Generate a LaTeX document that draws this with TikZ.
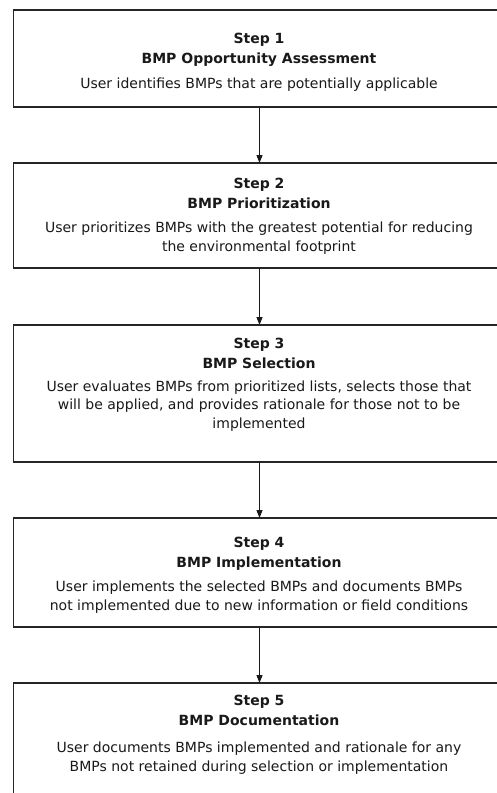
\documentclass[tikz,border=0pt]{standalone}
\usepackage{fontspec}
\setmainfont{DejaVu Sans}
\usetikzlibrary{arrows.meta}
\tikzset{
  stepbox/.style={draw=black!85, line width=1.4pt, fill=white, minimum width=492pt,
    inner sep=0pt, outer sep=0pt, rectangle},
  steptext/.style={anchor=north, inner sep=0pt, align=center, text=black!90,
    font=\fontsize{14}{18.5}\selectfont},
  flow/.style={draw=black!90, line width=1pt, -{Triangle[length=8pt,width=6pt]}}
}
\begin{document}
\begin{tikzpicture}[x=1pt,y=-1pt]
  \useasboundingbox (0,0) rectangle (497,793);
  \clip (0,0) rectangle (497,793);
  \fill[white] (0,0) rectangle (497,793);

  % boxes
  \node[stepbox, minimum height=97pt]  (b1) at (259.5,58.5)  {};
  \node[stepbox, minimum height=105pt] (b2) at (259.5,215.5) {};
  \node[stepbox, minimum height=137pt] (b3) at (259.5,393.5) {};
  \node[stepbox, minimum height=109pt] (b4) at (259.5,572.5) {};
  \node[stepbox, minimum height=150pt] (b5) at (259.5,758)   {};

  % box texts
  \node[steptext] (t1) at (259,32.5) {\textbf{Step 1}\\[1.5pt]
    \textbf{BMP Opportunity Assessment}\\[7pt]
    User identifies BMPs that are potentially applicable};
  \node[steptext] (t2) at (259,177.8) {\textbf{Step 2}\\[1.5pt]
    \textbf{BMP Prioritization}\\[6pt]
    User prioritizes BMPs with the greatest potential for reducing\\
    the environmental footprint};
  \node[steptext] (t3) at (259,337.8) {\textbf{Step 3}\\[1.5pt]
    \textbf{BMP Selection}\\[4.5pt]
    User evaluates BMPs from prioritized lists, selects those that\\
    will be applied, and provides rationale for those not to be\\
    implemented};
  \node[steptext] (t4) at (259,537.3) {\textbf{Step 4}\\[1.5pt]
    \textbf{BMP Implementation}\\[5.5pt]
    User implements the selected BMPs and documents BMPs\\
    not implemented due to new information or field conditions};
  \node[steptext] (t5) at (259,694.8) {\textbf{Step 5}\\[1.5pt]
    \textbf{BMP Documentation}\\[9pt]
    User documents BMPs implemented and rationale for any\\
    BMPs not retained during selection or implementation};

  % connectors
  \draw[flow] (b1.south) -- (b2.north);
  \draw[flow] (b2.south) -- (b3.north);
  \draw[flow] (b3.south) -- (b4.north);
  \draw[flow] (b4.south) -- (b5.north);
\end{tikzpicture}
\end{document}
